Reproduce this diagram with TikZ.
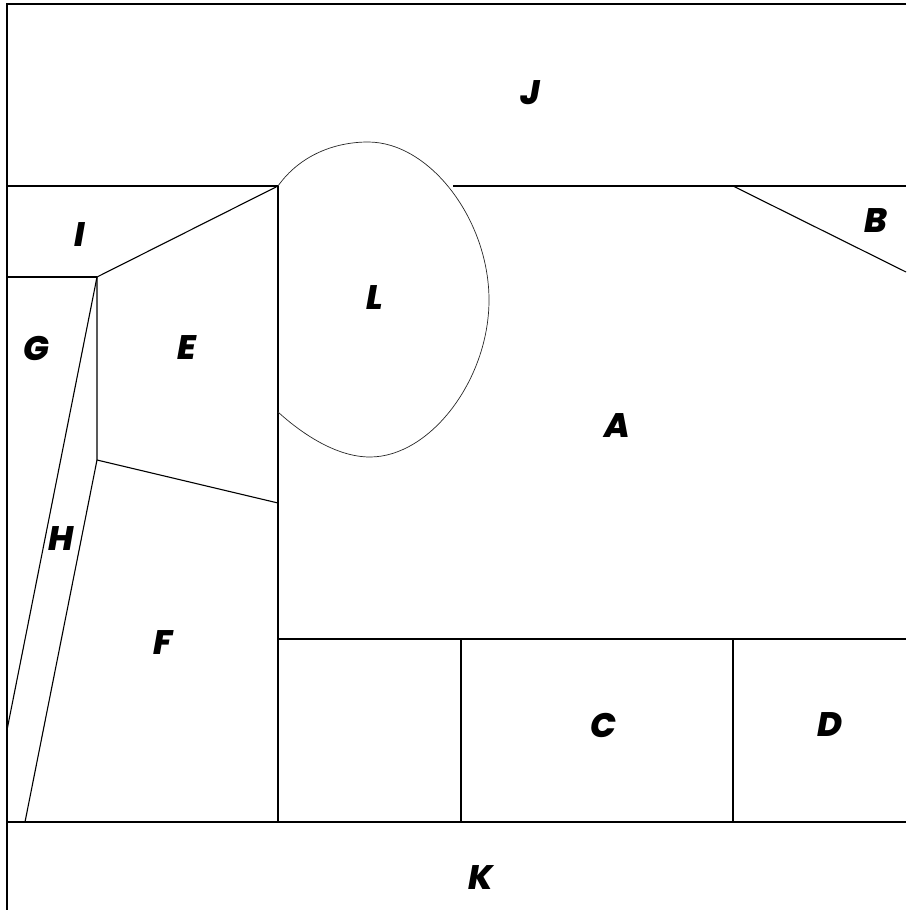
\documentclass[tikz,border=0pt]{standalone}
\usepackage{fontspec}
\setmainfont{Poppins}
\newfontfamily\lblfont{Poppins-ExtraBoldItalic}
\begin{document}
\begin{tikzpicture}[x=1pt,y=-1pt,
  edge/.style={line width=1.1pt,black},
  blob/.style={line width=0.7pt,black!85},
  lbl/.style={font=\fontsize{34}{34}\selectfont\lblfont,inner sep=0pt}]
\useasboundingbox (0,0) rectangle (906,910);
% corner points
\coordinate (tl) at (7,4);
\coordinate (tr) at (906,4);
\coordinate (bl) at (7,910);
\coordinate (il) at (7,186);
\coordinate (p1) at (278,186);
\coordinate (jr) at (906,186);
\coordinate (jm) at (453,186);
\coordinate (bb) at (733,186);
\coordinate (br) at (906,272);
\coordinate (gl) at (7,277);
\coordinate (p2) at (97,277);
\coordinate (p3) at (97,460);
\coordinate (p4) at (278,503);
\coordinate (hl) at (7,730);
\coordinate (fb) at (25,822);
\coordinate (kl) at (7,822);
\coordinate (kr) at (906,822);
\coordinate (ab) at (278,639);
\coordinate (ar) at (906,639);
\coordinate (c1t) at (461,639);
\coordinate (c1b) at (461,822);
\coordinate (c2t) at (733,639);
\coordinate (c2b) at (733,822);
\coordinate (vb) at (278,822);
\coordinate (lt) at (368,142);
\coordinate (lr) at (489,300);
\coordinate (lb) at (370,457);
\coordinate (lj) at (278,412);
% frame
\draw[edge] (tr) -- (tl) -- (bl);
% horizontals
\draw[edge] (il) -- (p1);
\draw[edge] (jm) -- (jr);
\draw[edge] (gl) -- (p2);
\draw[edge] (kl) -- (kr);
\draw[edge] (ab) -- (ar);
% slanted and verticals
\draw[edge] (p2) -- (p1);
\draw[edge] (p1) -- (vb);
\draw[edge] (p2) -- (p3) -- (p4);
\draw[edge] (p2) -- (hl);
\draw[edge] (p3) -- (fb);
\draw[edge] (bb) -- (br);
\draw[edge] (c1t) -- (c1b);
\draw[edge] (c2t) -- (c2b);
% L blob
\draw[blob] (p1) .. controls (300,155) and (335,142) .. (lt)
  .. controls (430,142) and (489,220) .. (lr)
  .. controls (489,380) and (430,457) .. (lb)
  .. controls (335,457) and (300,432) .. (lj);
% labels
\node[lbl] (J) at (530,93) {J};
\node[lbl] (I) at (80,235) {I};
\node[lbl] (B) at (876,221) {B};
\node[lbl] (L) at (375,298) {L};
\node[lbl] (G) at (36,348) {G};
\node[lbl] (E) at (187,348) {E};
\node[lbl] (A) at (617,426) {A};
\node[lbl] (H) at (61,539) {H};
\node[lbl] (F) at (163,643) {F};
\node[lbl] (C) at (603,725) {C};
\node[lbl] (D) at (830,725) {D};
\node[lbl] (K) at (481,878) {K};
\end{tikzpicture}
\end{document}
